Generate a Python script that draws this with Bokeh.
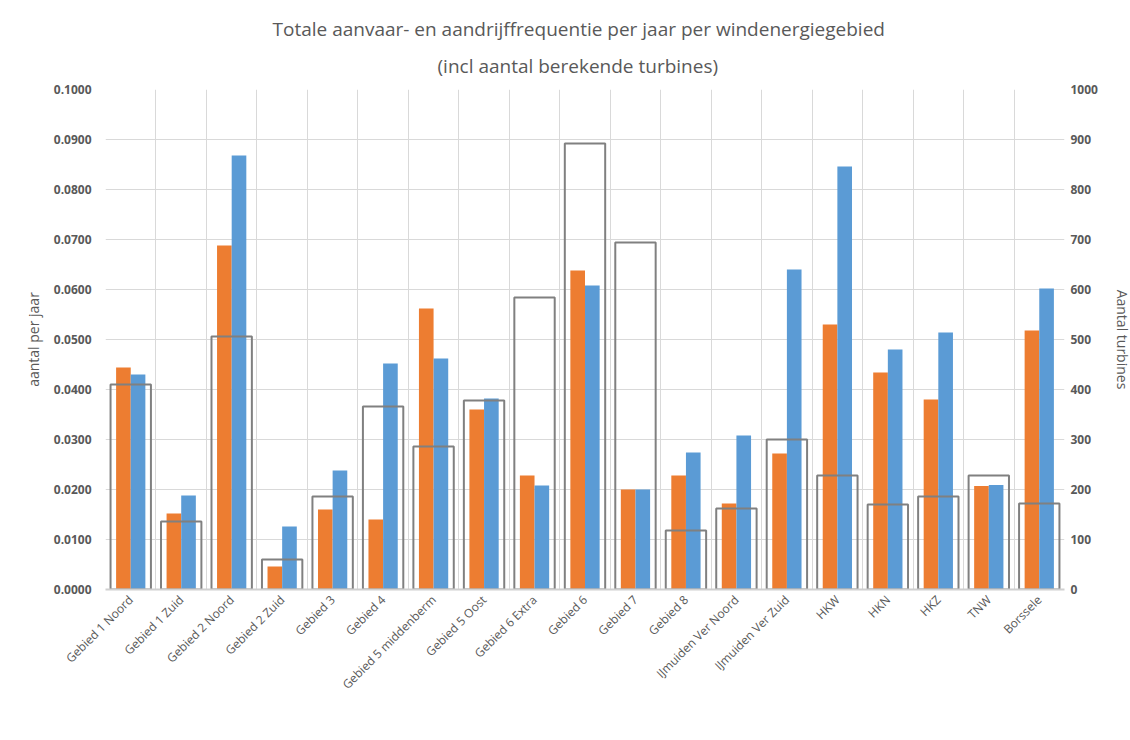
import math
from bokeh.plotting import figure
from bokeh.models import (ColumnDataSource, LinearAxis, Range1d, FixedTicker,
                          Legend, LegendItem, Title, NumeralTickFormatter)
from bokeh.embed import file_html
from bokeh.resources import INLINE

categories = ["Gebied 1 Noord", "Gebied 1 Zuid", "Gebied 2 Noord", "Gebied 2 Zuid",
              "Gebied 3", "Gebied 4", "Gebied 5 middenberm", "Gebied 5 Oost",
              "Gebied 6 Extra", "Gebied 6", "Gebied 7", "Gebied 8",
              "IJmuiden Ver Noord", "IJmuiden Ver Zuid", "HKW", "HKN", "HKZ", "TNW", "Borssele"]
rammen = [0.0444, 0.0152, 0.0688, 0.0046, 0.0160, 0.0140, 0.0562, 0.0360,
          0.0228, 0.0638, 0.0200, 0.0228, 0.0172, 0.0272, 0.0530, 0.0434,
          0.0380, 0.0207, 0.0518]
driften = [0.0430, 0.0188, 0.0868, 0.0126, 0.0238, 0.0452, 0.0462, 0.0382,
           0.0208, 0.0608, 0.0200, 0.0274, 0.0308, 0.0640, 0.0846, 0.0480,
           0.0514, 0.0209, 0.0602]
turbines = [410, 136, 506, 60, 186, 366, 286, 378, 584, 892, 694, 118, 162, 300,
            228, 170, 186, 228, 172]

TXT = "#595959"
FONT = "Open Sans"

idx = list(range(len(categories)))
src = ColumnDataSource(dict(
    x=idx,
    xr=[i - 0.145 for i in idx],
    xd=[i + 0.145 for i in idx],
    rammen=rammen, driften=driften, turbines=turbines,
))

p = figure(frame_width=959, frame_height=500, output_backend="svg", toolbar_location=None,
           x_range=Range1d(-0.5, len(categories) - 0.5), y_range=Range1d(0, 0.1),
           min_border_left=105, min_border_right=62, min_border_top=89, min_border_bottom=151)
p.outline_line_color = None
p.background_fill_color = "white"
p.border_fill_color = "white"

p.extra_y_ranges = {"turb": Range1d(0, 1000)}

r1 = p.vbar(x="xr", top="rammen", width=0.29, source=src, fill_color="#ED7D31", line_color=None)
r2 = p.vbar(x="xd", top="driften", width=0.29, source=src, fill_color="#5B9BD5", line_color=None)
r3 = p.vbar(x="x", top="turbines", width=0.8, source=src, y_range_name="turb",
            fill_color=None, line_color="#808080", line_width=2)

# axes
p.yaxis.ticker = FixedTicker(ticks=[i / 100 for i in range(11)])
p.yaxis.formatter = NumeralTickFormatter(format="0.0000")
p.yaxis.axis_label = "aantal per jaar"
ax2 = LinearAxis(y_range_name="turb", ticker=FixedTicker(ticks=list(range(0, 1001, 100))),
                 axis_label="Aantal turbines")
p.add_layout(ax2, "right")

for ax in [p.yaxis[0], ax2]:
    ax.axis_line_color = None
    ax.major_tick_line_color = None
    ax.minor_tick_line_color = None
    ax.major_tick_out = 0
    ax.major_tick_in = 0
    ax.major_label_text_font = FONT
    ax.major_label_text_font_size = "12px"
    ax.major_label_text_font_style = "bold"
    ax.major_label_text_color = TXT
    ax.axis_label_text_font = FONT
    ax.axis_label_text_font_size = "14px"
    ax.axis_label_text_font_style = "normal"
    ax.axis_label_text_color = TXT
p.yaxis[0].major_label_standoff = 14
p.yaxis[0].axis_label_standoff = 8
ax2.major_label_standoff = 6
ax2.axis_label_standoff = 12

xa = p.xaxis[0]
xa.ticker = FixedTicker(ticks=idx)
xa.major_label_overrides = {i: c for i, c in zip(idx, categories)}
xa.major_label_orientation = math.pi / 4
xa.major_label_text_font = FONT
xa.major_label_text_font_size = "12px"
xa.major_label_text_color = TXT
xa.major_tick_line_color = None
xa.minor_tick_line_color = None
xa.major_tick_out = 0
xa.major_tick_in = 0
xa.axis_line_color = "#d0d0d0"
xa.axis_line_width = 2
xa.major_label_standoff = 8

# grids
p.ygrid.ticker = FixedTicker(ticks=[i / 100 for i in range(11)])
p.ygrid.grid_line_color = "#d9d9d9"
p.ygrid.grid_line_width = 1
p.xgrid.ticker = FixedTicker(ticks=[i - 0.5 for i in range(len(categories) + 1)])
p.xgrid.grid_line_color = "#d9d9d9"
p.xgrid.grid_line_width = 1

# titles
p.title.text = ""
p.title.visible = False
p.add_layout(Title(text="(incl aantal berekende turbines)", align="left",
                   text_font=FONT, text_font_size="19px", text_font_style="normal",
                   text_color=TXT, offset=332, standoff=22), "above")
p.add_layout(Title(text="Totale aanvaar- en aandrijffrequentie per jaar per windenergiegebied",
                   align="left", text_font=FONT, text_font_size="19px",
                   text_font_style="normal", text_color=TXT, offset=167, standoff=-4), "above")

legend = Legend(items=[LegendItem(label="Rammen", renderers=[r1]),
                       LegendItem(label="Driften", renderers=[r2]),
                       LegendItem(label="Aantal turbines", renderers=[r3])],
                orientation="horizontal", location="top_center",
                label_text_font=FONT, label_text_font_size="11px",
                label_text_font_style="bold", label_text_color=TXT,
                glyph_width=10, glyph_height=10, label_standoff=3, spacing=14,
                border_line_color=None, background_fill_alpha=0, margin=0, padding=2,
                label_height=12)
try:
    legend.margin = -18
except Exception:
    legend.margin = 0
p.add_layout(legend, "below")

open("out.html", "w").write(file_html(p, INLINE))
